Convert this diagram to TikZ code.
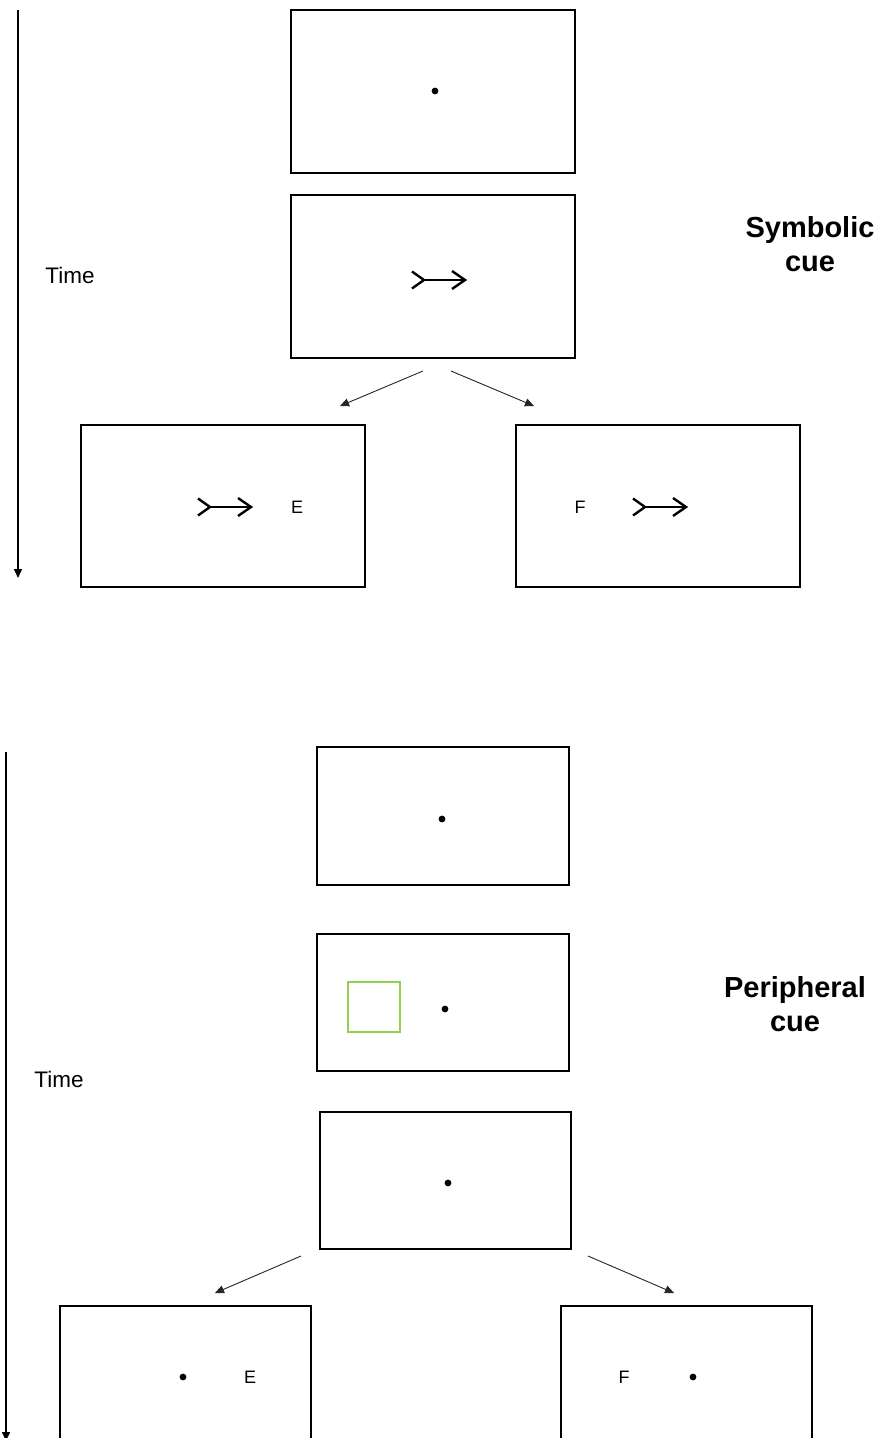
\documentclass[tikz,border=0pt]{standalone}
\usepackage{fontspec}
\setmainfont{Liberation Sans}
\usetikzlibrary{arrows.meta}
\definecolor{cuegreen}{RGB}{146,208,80}
\tikzset{
  box/.style={draw=black, line width=0.65pt, inner sep=0pt, outer sep=0pt, fill=white},
  fixdot/.style={circle, fill=black, inner sep=0pt, minimum size=3.4pt},
  timeline/.style={line width=0.75pt, -{Triangle[length=4.5pt,width=4pt]}},
  branch/.style={line width=0.45pt, draw=black!85, -{Triangle[length=4.5pt,width=4pt]}},
  timelbl/.style={font=\fontsize{11.25}{13}\selectfont, inner sep=0pt},
  cuelbl/.style={font=\fontsize{14.5}{17}\selectfont\bfseries, align=center, inner sep=0pt},
  letter/.style={font=\fontsize{9}{10}\selectfont, inner sep=0pt},
  cuesym/.pic={
    \draw[line width=1.2pt, line join=miter] (0,-8.5) -- (12,0) -- (0,8.5);
    \draw[line width=1.2pt] (12,0) -- (53,0);
    \draw[line width=1.2pt] (40,-9) -- (53,0) -- (40,9);
  }
}
\begin{document}
\begin{tikzpicture}[x=0.5pt, y=-0.5pt]
\clip (0,0) rectangle (881,1438);
\fill[white] (0,0) rectangle (881,1438);

% ---------- Symbolic cue ----------
\coordinate (t1s) at (18,10);
\coordinate (t1e) at (18,578);
\draw[timeline] (t1s) -- (t1e);
\node[timelbl, anchor=west] (time1) at (45,275) {Time};

\node[box, minimum width=142pt, minimum height=81.5pt] (b1) at (433,91.5) {};
\node[fixdot] (d1) at (435,91) {};

\node[box, minimum width=142pt, minimum height=81.5pt] (b2) at (433,276.5) {};
\pic (c2) at (412,280) {cuesym};

\node[box, minimum width=142pt, minimum height=81pt] (b3) at (223,506) {};
\pic (c3) at (198,507) {cuesym};
\node[letter] (e1) at (297,507) {E};

\node[box, minimum width=142pt, minimum height=81pt] (b4) at (658,506) {};
\node[letter] (f1) at (580,507) {F};
\pic (c4) at (633,507) {cuesym};

\coordinate (a1s) at (423,371);
\coordinate (a1e) at (340,406);
\coordinate (a2s) at (451,371);
\coordinate (a2e) at (534,406);
\draw[branch] (a1s) -- (a1e);
\draw[branch] (a2s) -- (a2e);

\node[cuelbl] (lbl1) at (810,244) {Symbolic\\cue};

% ---------- Peripheral cue ----------
\coordinate (t2s) at (6,752);
\coordinate (t2e) at (6,1441);
\draw[timeline] (t2s) -- (t2e);
\node[timelbl, anchor=west] (time2) at (34,1079) {Time};

\node[box, minimum width=126pt, minimum height=69pt] (b5) at (443,816) {};
\node[fixdot] (d5) at (442,819) {};

\node[box, minimum width=126pt, minimum height=68.5pt] (b6) at (443,1002.5) {};
\draw[cuegreen, line width=1pt] (348,982) rectangle (400,1032);
\node[fixdot] (d6) at (445,1009) {};

\node[box, minimum width=125.5pt, minimum height=68.5pt] (b7) at (445.5,1180.5) {};
\node[fixdot] (d7) at (448,1183) {};

\coordinate (a3s) at (301,1256);
\coordinate (a3e) at (215,1293);
\coordinate (a4s) at (588,1256);
\coordinate (a4e) at (674,1293);
\draw[branch] (a3s) -- (a3e);
\draw[branch] (a4s) -- (a4e);

\node[box, minimum width=125.5pt, minimum height=75pt] (b8) at (185.5,1381) {};
\node[fixdot] (d8) at (183,1377) {};
\node[letter] (e2) at (250,1377) {E};

\node[box, minimum width=125.5pt, minimum height=75pt] (b9) at (686.5,1381) {};
\node[letter] (f2) at (624,1377) {F};
\node[fixdot] (d9) at (693,1377) {};

\node[cuelbl] (lbl2) at (795,1004) {Peripheral\\cue};
\end{tikzpicture}
\end{document}
